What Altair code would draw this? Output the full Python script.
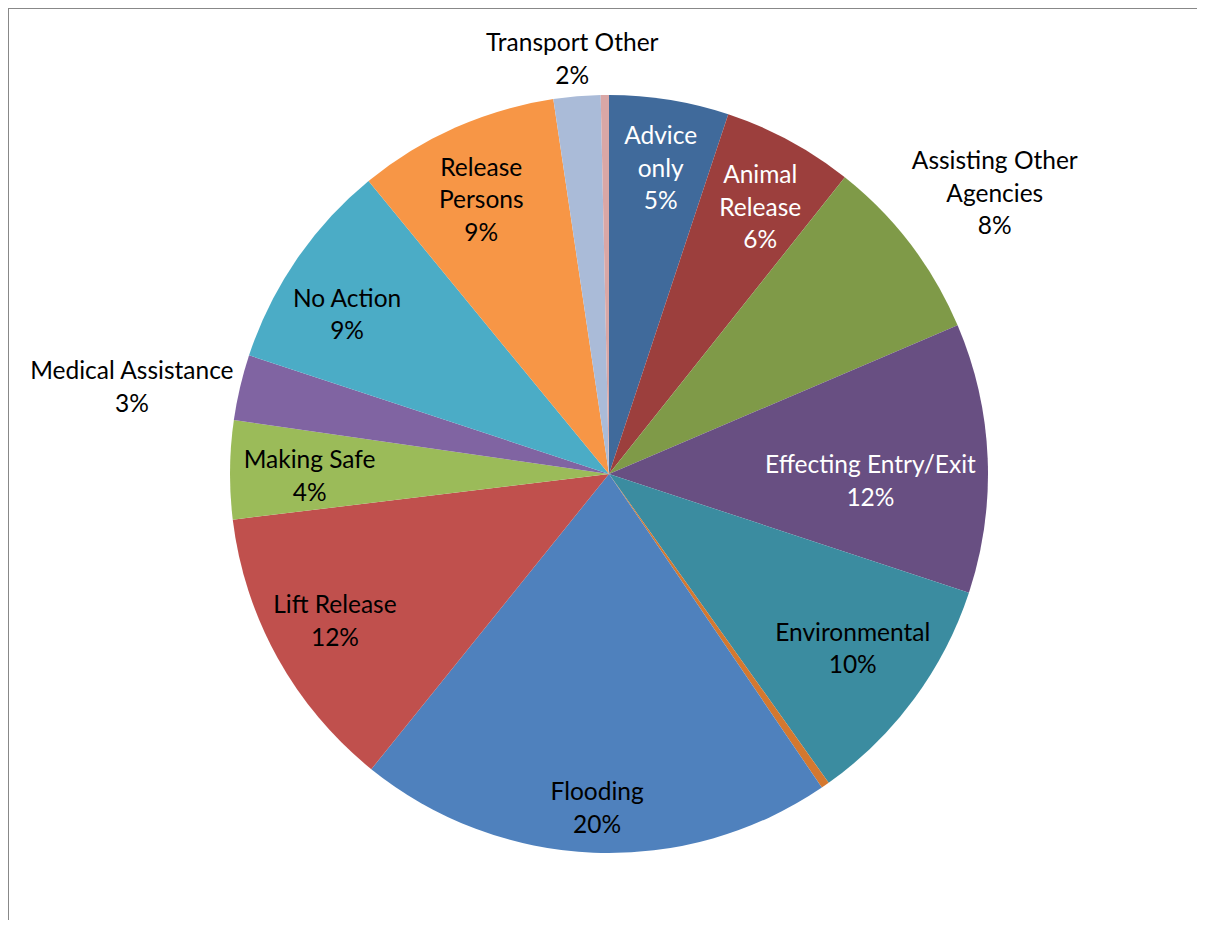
import altair as alt
import pandas as pd

# ---- data ----
categories = ["Advice only", "Animal Release", "Assisting Other Agencies",
              "Effecting Entry/Exit", "Environmental", "Unlabelled (orange)",
              "Flooding", "Lift Release", "Making Safe", "Medical Assistance",
              "No Action", "Release Persons", "Transport Other", "Unlabelled (pink)"]
values = [5.1, 5.6, 7.9, 11.5, 10.1, 0.35, 20.3, 12.3, 4.2, 2.8, 9.0, 8.6, 2.0, 0.35]
label_names = ["Advice\nonly", "Animal\nRelease", "Assisting Other\nAgencies",
               "Effecting Entry/Exit", "Environmental", "",
               "Flooding", "Lift Release", "Making Safe", "Medical Assistance",
               "No Action", "Release\nPersons", "Transport Other", ""]
label_pcts = ["5%", "6%", "8%", "12%", "10%", "", "20%", "12%", "4%", "3%",
              "9%", "9%", "2%", ""]

# ---- styles / layout ----
colors = ["#406A9B", "#9C3F3D", "#7F9A48", "#684F82", "#3B8CA0", "#D4782F",
          "#4F81BD", "#C0504D", "#9BBB59", "#8064A2", "#4BACC6", "#F79646",
          "#AABBD8", "#D9A7A6"]
label_colors = ["white", "white", "black", "white", "black", "black", "black",
                "black", "black", "black", "black", "black", "black", "black"]
label_radius = [0.82, 0.81, 1.26, 0.69, 0.79, 0, 0.88, 0.82, 0.79, 1.28,
                0.81, 0.80, 1.10, 0]          # fraction of pie radius
label_shift = [0.4, 1.1, 1.2, 3.8, -0.9, 0, -0.3, 0.9, -0.9, -2.8,
               -3.0, -1.0, -0.2, 0]           # degrees from slice middle

R = 379
CX, CY = 601, 466
W, H = 1189, 912
LH = 32.5
FS = 24.5

df = pd.DataFrame({
    "category": categories,
    "value": values,
    "label": [(n + "\n" + p) if n else "" for n, p in zip(label_names, label_pcts)],
    "tcolor": label_colors,
    "lr": label_radius,
    "shift": label_shift,
    "order": list(range(len(categories))),
})

arcs = alt.Chart(df).mark_arc(outerRadius=R, strokeWidth=0).encode(
    theta=alt.Theta("value:Q", stack=True),
    color=alt.Color("category:N", scale=alt.Scale(domain=categories, range=colors),
                    legend=None),
    order=alt.Order("order:Q"),
    x=alt.value(CX),
    y=alt.value(CY),
)

base_labels = alt.Chart(df).transform_joinaggregate(
    total="sum(value)"
).transform_window(
    cum="sum(value)", sort=[alt.SortField("order")], frame=[None, 0]
).transform_calculate(
    mid="(datum.cum - datum.value/2)/datum.total*2*PI + datum.shift*PI/180",
    rad=f"datum.lr*{R}",
    nlines="length(split(datum.label, '\\n'))",
)

label_layers = []
for n in (2, 3):
    label_layers.append(
        base_labels.transform_filter(
            f"datum.label != '' && datum.nlines == {n}"
        ).mark_text(
            font="Lato", fontSize=FS, lineBreak="\n", lineHeight=LH,
            align="center", baseline="middle", dy=-(n - 1) * LH / 2 + 2
        ).encode(
            theta=alt.Theta("mid:Q", scale=None),
            radius=alt.Radius("rad:Q", scale=None),
            text="label:N",
            color=alt.Color("tcolor:N", scale=None),
            x=alt.value(CX),
            y=alt.value(CY),
        )
    )

frame_df = pd.DataFrame({"k": [0]})
vline = alt.Chart(frame_df).mark_rule(color="#888888", strokeWidth=2).encode(
    x=alt.value(0), y=alt.value(0), y2=alt.value(H))
hline = alt.Chart(frame_df).mark_rule(color="#888888", strokeWidth=2).encode(
    x=alt.value(0), x2=alt.value(W), y=alt.value(0))

chart = alt.layer(arcs, *label_layers, vline, hline).resolve_scale(
    theta="independent", radius="independent"
).properties(
    width=W, height=H, padding=0, autosize="none"
).configure_view(stroke=None)

chart.save("out.html", embed_options={"renderer": "svg", "actions": False})
